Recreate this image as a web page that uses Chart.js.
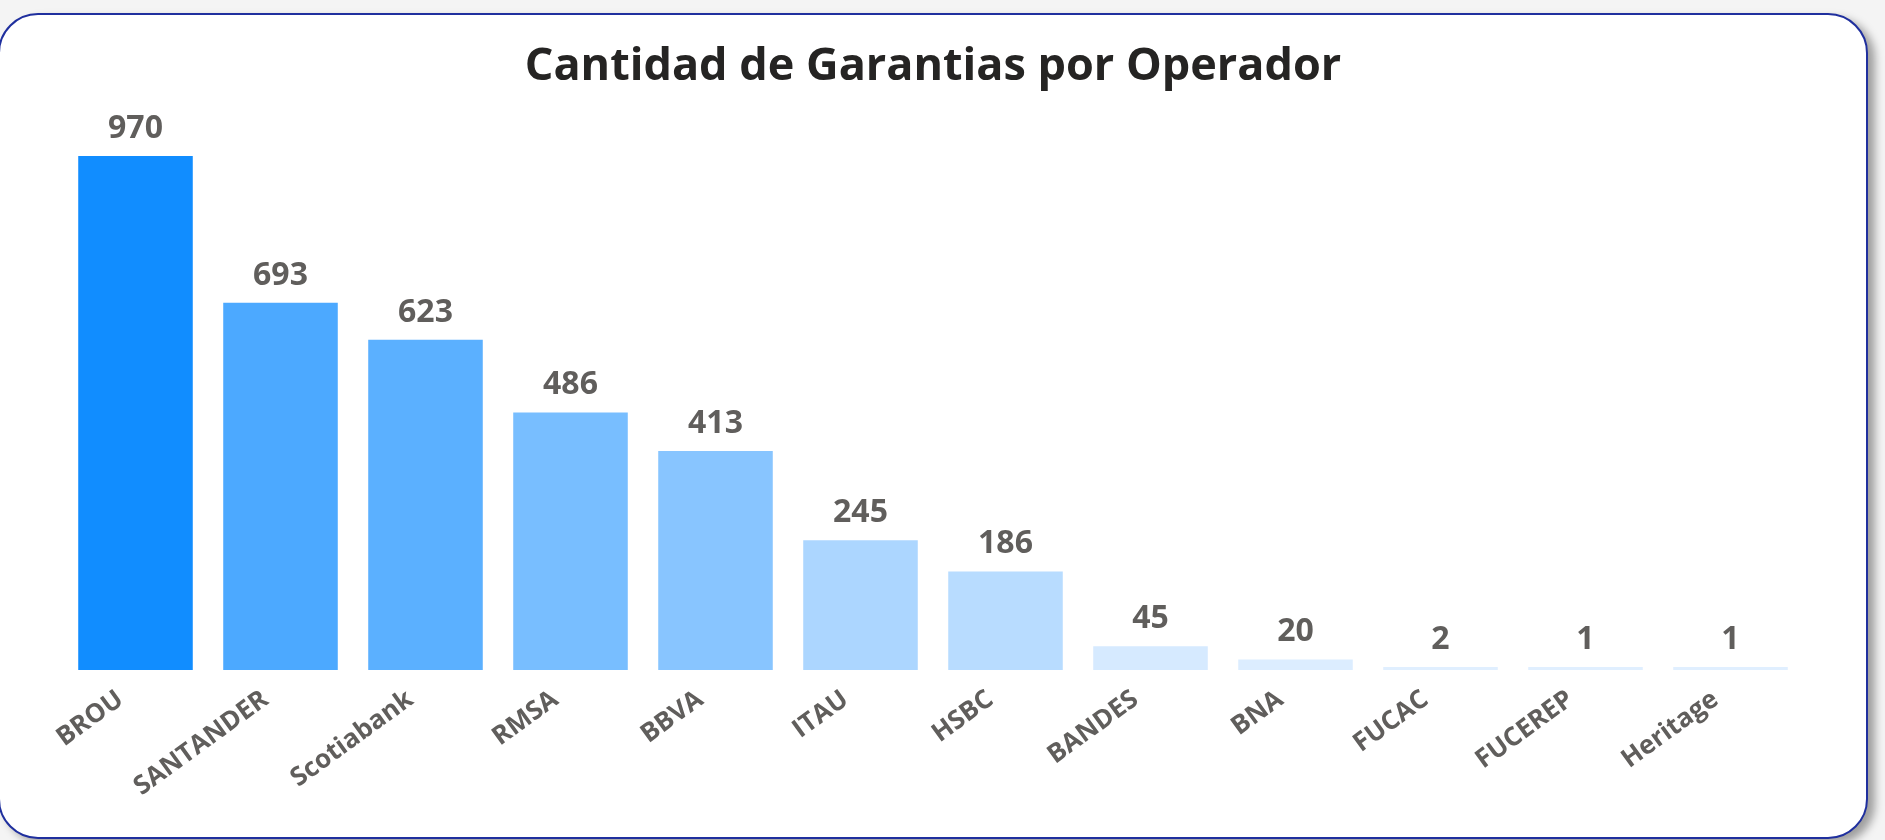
<!DOCTYPE html>
<html>
<head>
<meta charset="utf-8">
<script src="https://cdn.jsdelivr.net/npm/chart.js@4"></script>
<style>
  html, body { margin: 0; padding: 0; background: #f4f4f4; overflow: hidden; }
  #card {
    position: absolute; left: -2px; top: 13px; width: 1866px; height: 822px;
    background: #fff; border: 2px solid #1f2f9e; border-radius: 40px;
    box-shadow: 7px 5px 9px rgba(0,0,0,0.35);
  }
  #chart { position: absolute; left: 0; top: 0; }
</style>
</head>
<body>
<div id="card"></div>
<canvas id="chart" width="1885" height="840"></canvas>
<script>
// datos
const operadores = ['BROU', 'SANTANDER', 'Scotiabank', 'RMSA', 'BBVA', 'ITAU', 'HSBC', 'BANDES', 'BNA', 'FUCAC', 'FUCEREP', 'Heritage'];
const garantias = [970, 693, 623, 486, 413, 245, 186, 45, 20, 2, 1, 1];

const FONT = "'Open Sans', 'Noto Sans', sans-serif";

// degradado segun el valor (claro -> azul)
function colorFor(v, max) {
    const lo = [224, 239, 255], hi = [17, 141, 255];
    const t = v / max;
    const c = lo.map((l, i) => Math.round(l + (hi[i] - l) * t));
    return 'rgb(' + c.join(',') + ')';
}
const maxVal = Math.max(...garantias);
const colores = garantias.map(v => colorFor(v, maxVal));

// etiquetas de valor arriba de cada barra
const valueLabels = {
    id: 'valueLabels',
    afterDatasetsDraw(chart) {
        const ctx = chart.ctx;
        const meta = chart.getDatasetMeta(0);
        ctx.save();
        ctx.font = 'bold 32px ' + FONT;
        ctx.fillStyle = '#605E5C';
        ctx.textAlign = 'center';
        ctx.textBaseline = 'alphabetic';
        meta.data.forEach((bar, i) => {
            ctx.fillText(String(garantias[i]), bar.x, bar.y - 18);
        });
        ctx.restore();
    }
};

const ctx = document.getElementById('chart').getContext('2d');
new Chart(ctx, {
    type: 'bar',
    data: {
        labels: operadores,
        datasets: [{
            data: garantias,
            backgroundColor: colores,
            borderWidth: 0,
            barPercentage: 0.79,
            categoryPercentage: 1,
            minBarLength: 3
        }]
    },
    options: {
        responsive: false,
        animation: false,
        layout: { padding: { left: 63, right: 82, top: 32, bottom: 0 } },
        plugins: {
            legend: { display: false },
            tooltip: { enabled: false },
            title: {
                display: true,
                text: 'Cantidad de Garantias por Operador',
                color: '#252423',
                font: { family: FONT, size: 45, weight: 'bold' },
                padding: { top: 8, bottom: 46 }
            }
        },
        scales: {
            x: {
                grid: { display: false },
                border: { display: false },
                ticks: {
                    color: '#605E5C',
                    font: { family: FONT, size: 26, weight: 'bold' },
                    minRotation: 36,
                    maxRotation: 36,
                    padding: 6,
                    labelOffset: -15,
                    autoSkip: false
                },
                afterFit: function(scale) { scale.height = 170; }
            },
            y: {
                display: false,
                min: 0,
                max: 1000
            }
        }
    },
    plugins: [valueLabels]
});
</script>
</body>
</html>
